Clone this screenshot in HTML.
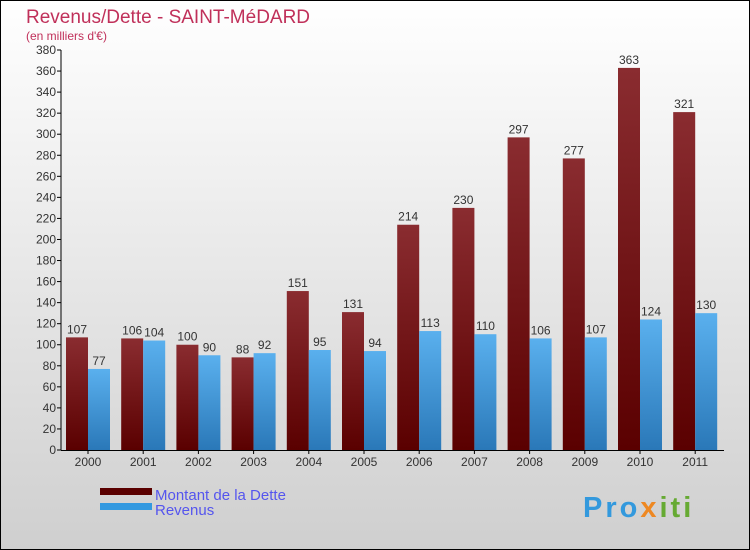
<!DOCTYPE html>
<html><head><meta charset="utf-8"><style>
body{margin:0;width:750px;height:550px;overflow:hidden}
svg{display:block;font-family:"Liberation Sans",sans-serif}
</style></head><body>
<svg id="c" width="750" height="550">
<defs>
<linearGradient id="bg" x1="0" y1="0" x2="0" y2="1"><stop offset="0" stop-color="#ffffff"/><stop offset="1" stop-color="#cfcfcf"/></linearGradient>
<linearGradient id="gd" x1="0" y1="0" x2="0" y2="1"><stop offset="0" stop-color="#8a2c30"/><stop offset="1" stop-color="#5a0000"/></linearGradient>
<linearGradient id="gr" x1="0" y1="0" x2="0" y2="1"><stop offset="0" stop-color="#5ab0ee"/><stop offset="1" stop-color="#2a78b8"/></linearGradient>
</defs>
<rect x="0.5" y="0.5" width="749" height="549" fill="url(#bg)" stroke="#000"/>
<text x="26" y="23" font-size="19" fill="#c0305a">Revenus/Dette - SAINT-MéDARD</text>
<text x="26" y="40" font-size="12" fill="#c0305a">(en milliers d'€)</text>
<g id="plot"></g>
<rect x="100" y="488" width="52" height="7" fill="#5a0000"/>
<text x="155" y="500" font-size="15" fill="#5555ee">Montant de la Dette</text>
<rect x="100" y="503" width="52" height="7" fill="#3399e0"/>
<text x="155" y="515" font-size="15" fill="#5555ee">Revenus</text>
<text x="583" y="517" font-size="29" font-weight="bold" letter-spacing="3" fill="#3399dd">Pro<tspan fill="#ee8822">x</tspan><tspan fill="#66aa33">iti</tspan></text>
</svg>
<script>
const years=["2000","2001","2002","2003","2004","2005","2006","2007","2008","2009","2010","2011"];
const debt=[107,106,100,88,151,131,214,230,297,277,363,321];
const revenue=[77,104,90,92,95,94,113,110,106,107,124,130];
const yTicks=[0,20,40,60,80,100,120,140,160,180,200,220,240,260,280,300,320,340,360,380];
const NS="http://www.w3.org/2000/svg";
const g=document.getElementById('plot');
const y0=450,yTop=50,vmax=380,x0=61,step=55.2;
const Y=v=>y0-v*(y0-yTop)/vmax;
const X=i=>x0+5+i*step;
function mk(t,a){const e=document.createElementNS(NS,t);for(const k in a)e.setAttribute(k,a[k]);g.appendChild(e);return e;}
yTicks.forEach(v=>{
 const l=mk('line',{x1:x0-4,x2:x0,y1:Y(v),y2:Y(v),stroke:'#000'});
 
 
 const t=mk('text',{x:x0-5,y:Y(v)+4,'font-size':12,'text-anchor':'end',fill:'#333'});
 t.textContent=v;
 
 
});
years.forEach((yr,i)=>{
 const bx=X(i);
 const d=mk('rect',{x:bx,y:Y(debt[i]),width:22,height:y0-Y(debt[i]),fill:'url(#gd)'});
 
 
 const r=mk('rect',{x:bx+22,y:Y(revenue[i]),width:22,height:y0-Y(revenue[i]),fill:'url(#gr)'});
 
 
 const dl=mk('text',{x:bx+11,y:Y(debt[i])-4,'font-size':12,'text-anchor':'middle',fill:'#333'});
 dl.textContent=debt[i];
 
 
 const rl=mk('text',{x:bx+33,y:Y(revenue[i])-4,'font-size':12,'text-anchor':'middle',fill:'#333'});
 rl.textContent=revenue[i];
 
 
 const tk=mk('line',{x1:bx+22,x2:bx+22,y1:y0,y2:y0+4,stroke:'#000'});
 
 
 const xl=mk('text',{x:bx+22,y:y0+16,'font-size':12,'text-anchor':'middle',fill:'#333'});
 xl.textContent=yr;
 
 
});
const ax=mk('line',{x1:x0,x2:x0,y1:yTop,y2:y0,stroke:'#000'});


const bx=mk('line',{x1:x0,x2:724,y1:y0+0.5,y2:y0+0.5,stroke:'#000'});


</script>
</body></html>
